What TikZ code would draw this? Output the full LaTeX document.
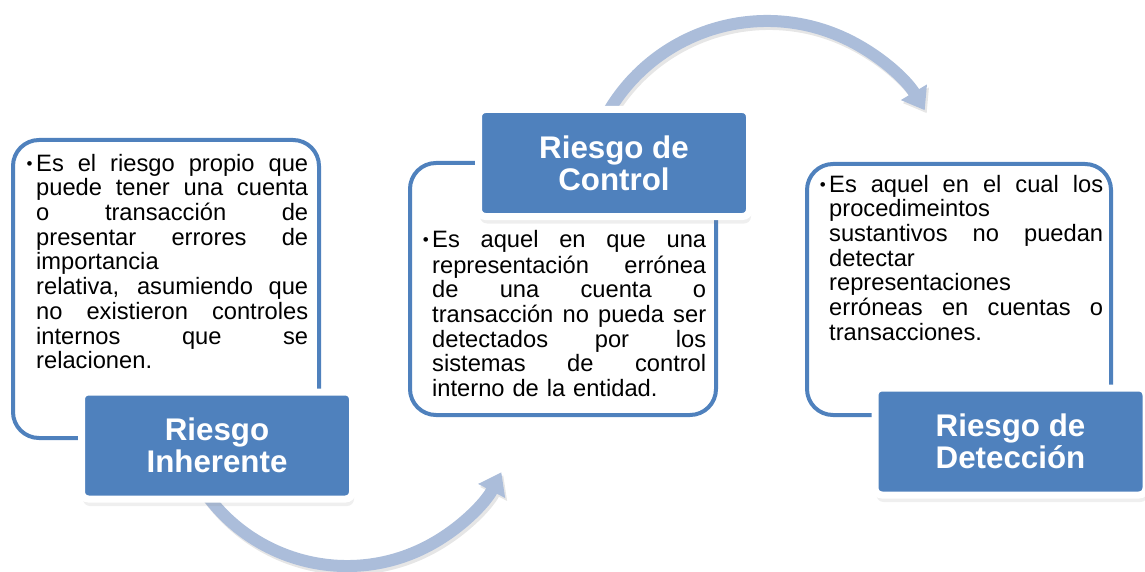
\documentclass[tikz,border=0pt]{standalone}
\usepackage{fontspec}
\setmainfont{Liberation Sans}
\usetikzlibrary{arrows.meta,shadows,calc}
\definecolor{accblue}{HTML}{4F81BD}
\definecolor{arccol}{HTML}{ABBDDA}
\definecolor{arcshadow}{HTML}{E6E6E6}
\newcommand\jline[2]{\leavevmode\hbox to #1{\spaceskip=0.278em plus 1fil\relax #2}}
\newcommand\bul{\leavevmode\llap{\raisebox{1.5pt}{\fontsize{17}{17}\selectfont\textbullet}\hspace{3.5pt}}\strut}
\begin{document}
\begin{tikzpicture}[x=1pt,y=-1pt,
  txtbox/.style={draw=accblue, line width=4pt, fill=white, rounded corners=26pt, inner sep=0pt},
  titlebox/.style={draw=white, fill=accblue, line width=7pt, rounded corners=7pt, inner sep=0pt,
    minimum width=271pt, minimum height=107pt, text=white,
    font=\fontsize{31.3}{32}\selectfont\bfseries, align=center,
    drop shadow={opacity=0.13, shadow xshift=1.5pt, shadow yshift=-7pt}},
  body/.style={anchor=north west, inner sep=0pt, text width=#1, align=left,
    font=\fontsize{23.7}{24.7}\selectfont},
  flow/.style={draw=arccol, line width=12pt, -{Triangle[width=29pt,length=21pt]}},
  flowshadow/.style={draw=arcshadow, line width=12pt, -{Triangle[width=29pt,length=21pt]}}
]
\useasboundingbox (0,0) rectangle (1145,572);

% connector start points (hidden under the title boxes)
\coordinate (a1s) at ($(347,392)+(152:174)$);
\coordinate (a2s) at ($(767,205)+(-155:184)$);

% connector shadows
\draw[flowshadow] ($(a1s)+(2,3)$) arc[start angle=152, end angle=27.5, radius=174];
\draw[flowshadow] ($(a2s)+(2,3)$) arc[start angle=-155, end angle=-31, radius=184];
% connectors
\draw[flow] (a1s) arc[start angle=152, end angle=27.5, radius=174];
\draw[flow] (a2s) arc[start angle=-155, end angle=-31, radius=184];

% text boxes
\node[txtbox, minimum width=306pt, minimum height=298pt] (b1) at (166,289) {};
\node[txtbox, minimum width=306pt, minimum height=252pt] (b2) at (563,289) {};
\node[txtbox, minimum width=304pt, minimum height=251pt] (b3) at (959,289.5) {};

\node[body=272pt] (t1) at (36,153.7) {\bul\jline{272pt}{Es el riesgo propio que}\\
\jline{272pt}{puede tener una cuenta}\\
\jline{272pt}{o transacción de}\\
\jline{272pt}{presentar errores de}\\
importancia\\
\jline{272pt}{relativa, asumiendo que}\\
\jline{272pt}{no existieron controles}\\
\jline{272pt}{internos que se}\\
relacionen.};

\node[body=274pt] (t2) at (432,229.7) {\bul\jline{274pt}{Es aquel en que una}\\
\jline{274pt}{representación errónea}\\
\jline{274pt}{de una cuenta o}\\
\jline{274pt}{transacción no pueda ser}\\
\jline{274pt}{detectados por los}\\
\jline{274pt}{sistemas de control}\\
interno de la entidad.};

\node[body=274pt] (t3) at (829,174.7) {\bul\jline{274pt}{Es aquel en el cual los}\\
procedimeintos\\
\jline{274pt}{sustantivos no puedan}\\
detectar\\
representaciones\\
\jline{274pt}{erróneas en cuentas o}\\
transacciones.};

% title boxes
\node[titlebox] (h1) at (217,445.5) {Riesgo\\Inherente};
\node[titlebox] (h2) at (614,163) {Riesgo de\\Control};
\node[titlebox] (h3) at (1010.5,441.5) {Riesgo de\\Detección};
\end{tikzpicture}
\end{document}
